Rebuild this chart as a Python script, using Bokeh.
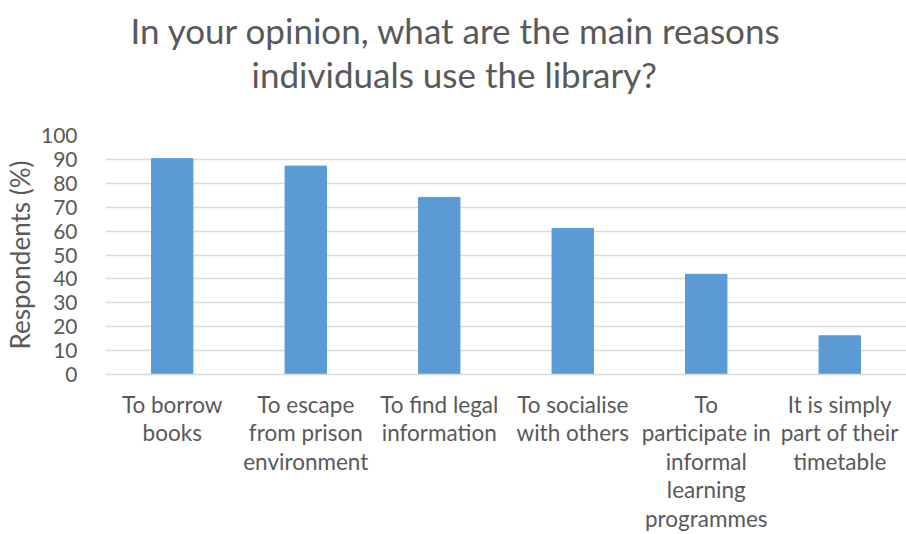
from bokeh.plotting import figure
from bokeh.models import Range1d, Title, FactorRange
from bokeh.embed import file_html
from bokeh.resources import INLINE

categories = [
    "To borrow\nbooks",
    "To escape\nfrom prison\nenvironment",
    "To find legal\ninformation",
    "To socialise\nwith others",
    "To\nparticipate in\ninformal\nlearning\nprogrammes",
    "It is simply\npart of their\ntimetable",
]
values = [90.3, 87.2, 74.1, 61.1, 41.9, 16.2]
y_ticks = [0, 10, 20, 30, 40, 50, 60, 70, 80, 90, 100]
title_lines = ["In your opinion, what are the main reasons", "individuals use the library?"]
y_label = "Respondents (%)"

FONT = "Lato"
GREY = "#595959"

p = figure(
    width=906, height=534,
    x_range=FactorRange(*categories, range_padding=0),
    y_range=Range1d(0, 100),
    output_backend="svg", toolbar_location=None,
    min_border_left=105, min_border_right=0,
    min_border_top=135, min_border_bottom=160,
)
p.outline_line_color = None
p.background_fill_color = "white"
p.border_fill_color = "white"

p.vbar(x=categories, top=values, width=0.31, fill_color="#5b9bd5", line_color="#5b9bd5")

p.xgrid.grid_line_color = None
p.ygrid.grid_line_color = "#d9d9d9"
p.ygrid.grid_line_width = 1.3
p.yaxis.ticker = y_ticks

p.yaxis.axis_line_color = None
p.yaxis.major_tick_line_color = None
p.yaxis.minor_tick_line_color = None
p.yaxis.major_label_text_font = FONT
p.yaxis.major_label_text_font_size = "21px"
p.yaxis.major_label_text_color = GREY
p.yaxis.major_label_standoff = 22
p.yaxis.axis_label = y_label
p.yaxis.axis_label_text_font = FONT
p.yaxis.axis_label_text_font_size = "26px"
p.yaxis.axis_label_text_font_style = "normal"
p.yaxis.axis_label_text_color = GREY
p.yaxis.axis_label_standoff = 2

p.xaxis.axis_line_color = "#d9d9d9"
p.xaxis.axis_line_width = 1.3
p.xaxis.major_tick_line_color = None
p.xaxis.minor_tick_line_color = None
p.xaxis.major_label_text_font = FONT
p.xaxis.major_label_text_font_size = "22.5px"
p.xaxis.major_label_text_color = GREY
p.xaxis.major_label_text_line_height = 1.06
p.xaxis.major_label_standoff = 10

# second line first (closest to the plot), then first line above it
p.add_layout(Title(
    text=title_lines[1], text_font=FONT, text_font_size="35px",
    text_color=GREY, align="left", offset=146, text_font_style="normal",
    standoff=0, padding=dict(top=0, right=0, bottom=41, left=0),
), "above")
p.add_layout(Title(
    text=title_lines[0], text_font=FONT, text_font_size="35px",
    text_color=GREY, align="left", offset=25, text_font_style="normal",
    standoff=0,
), "above")

open("out.html", "w").write(file_html(p, INLINE))
